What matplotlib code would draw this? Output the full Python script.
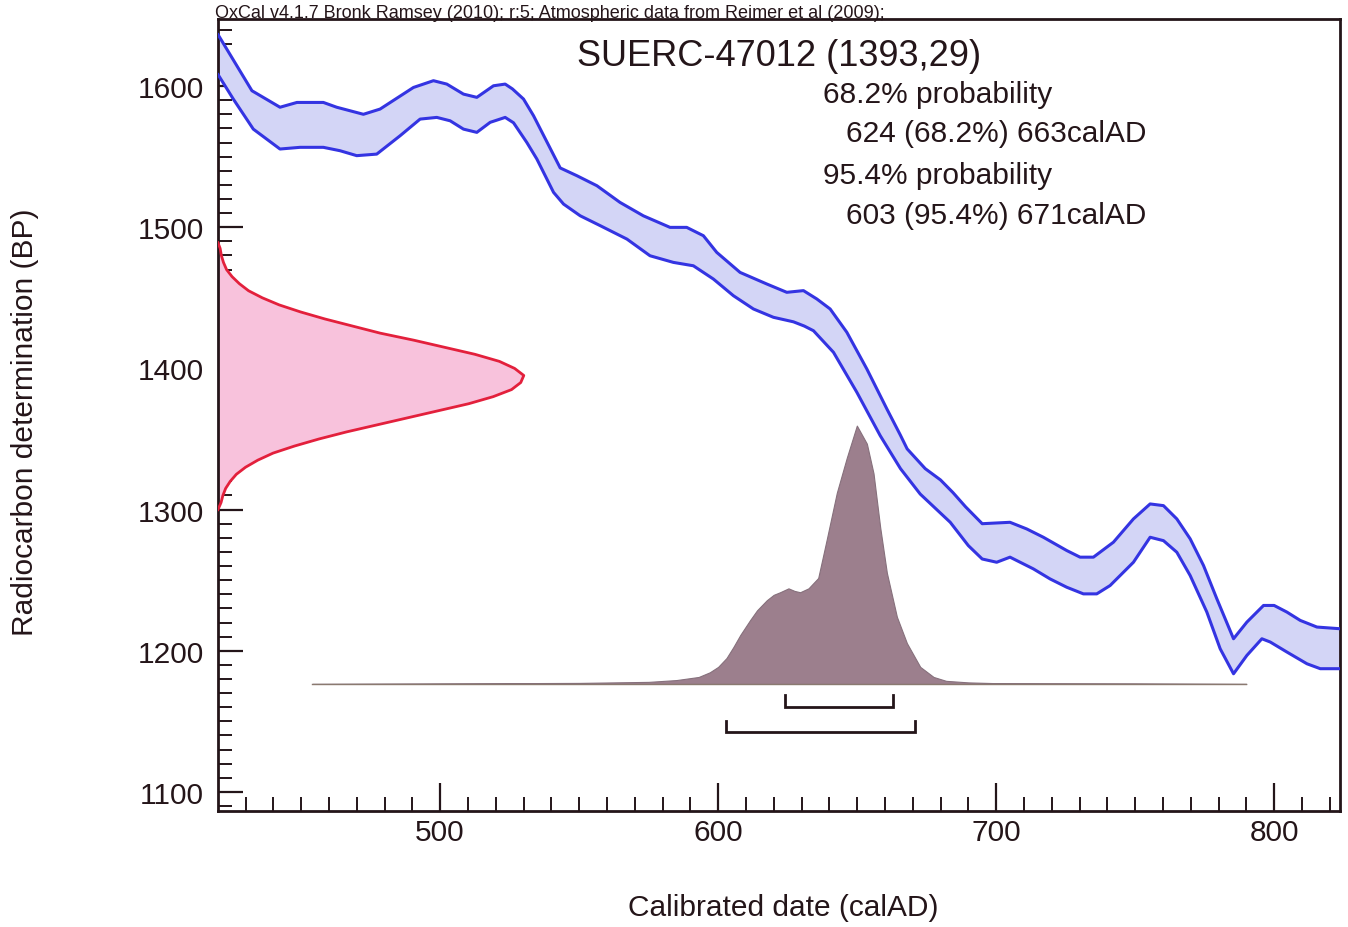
import matplotlib
matplotlib.use('Agg')
import matplotlib.pyplot as plt
from matplotlib.ticker import MultipleLocator, FixedLocator

plt.rcParams['font.family'] = ['Liberation Sans', 'DejaVu Sans']

# ---------------- data ----------------
# calibration curve (upper and lower 1-sigma envelope), calAD vs BP
cal_upper_year = [420, 432.3, 442.4, 448.5, 458, 462.8, 472.4, 478.4, 490.4, 497.6, 502.4, 508.4,
                  513.2, 519.2, 523.4, 526, 530, 533.6, 543.2, 549.2, 556.4, 564.7, 573.1, 582.7,
                  588.7, 594.7, 599.5, 607.9, 617.5, 624.7, 630.7, 635.5, 640.3, 646.3, 653.5,
                  660.7, 665.5, 668, 674.5, 680, 684.5, 689, 695, 705, 711, 717, 725.4, 730.2, 735,
                  742.2, 749.4, 755.4, 760.2, 765, 769.8, 774.6, 779.4, 785.4, 790.2, 796.2, 800,
                  804.6, 809.4, 815.4, 823.7]
cal_upper_bp = [1636.8, 1596.7, 1585, 1588.4, 1588.4, 1585, 1580, 1583.7, 1599, 1603.8, 1601.4, 1594.3,
                1592, 1600.2, 1601.4, 1598, 1590.8, 1579, 1542, 1536.5, 1529.4, 1517.6, 1508.1, 1499.9,
                1499.9, 1494, 1482.2, 1468, 1459.8, 1453.9, 1455.1, 1449.2, 1442.1, 1425.6, 1399.6,
                1371.3, 1353, 1343, 1329, 1321, 1312, 1302, 1290, 1291, 1286.3, 1280.4, 1271, 1266.3, 1266.3,
                1276.9, 1293.4, 1304, 1302.8, 1293.4, 1279.3, 1260.4, 1236.8, 1208.5, 1220.3, 1232.1, 1232.1,
                1227.4, 1221.5, 1216.8, 1215.6]
cal_lower_year = [420, 425.6, 432.8, 442.4, 449.6, 458, 464, 470, 477.2, 485.6, 492.8, 498.8, 503.6,
                  508.4, 513.2, 518, 523.4, 526.4, 531.2, 534.8, 540.8, 544.4, 550.4, 557.6, 567.2,
                  575.5, 583.9, 591.1, 598.3, 605.5, 612.7, 619.9, 627.1, 631, 634.3, 641.5, 649.9,
                  658.3, 665.6, 672.7, 683.5, 690, 695, 700.2, 705, 713.4, 719.4, 725.4, 731.4, 736.2,
                  741, 749.4, 755.4, 760.2, 765, 769.8, 775.8, 780.6, 785.4, 790.2, 795.6, 798.6, 804.6,
                  811.8, 816.6, 823.7]
cal_lower_bp = [1608.5, 1590.8, 1569.5, 1555.4, 1556.6, 1556.6, 1554.2, 1550.7, 1551.8, 1564.8, 1576.6,
                1577.8, 1575.4, 1569.5, 1567.2, 1574.3, 1577.8, 1574, 1560, 1548.3, 1524.7, 1516.4, 1508.1,
                1501.1, 1491.6, 1479.8, 1475.1, 1472.7, 1463.3, 1451.5, 1442.1, 1436.2, 1433, 1430,
                1426.7, 1411.4, 1383.1, 1352.4, 1329, 1311, 1291, 1274.5, 1265, 1262.7, 1266.3, 1258,
                1250.9, 1245, 1240.3, 1240.3, 1246.2, 1262.7, 1280.4, 1278, 1269.8, 1253.3, 1227.4,
                1201.4, 1183.7, 1196.7, 1208.5, 1206.2, 1199.1, 1190.8, 1187.3, 1187.3]

# radiocarbon measurement (relative probability vs BP)
c14_bp = [1489, 1485, 1480, 1475, 1470, 1465, 1460, 1455, 1450, 1445, 1440, 1435, 1430, 1425, 1420,
          1415, 1410, 1405, 1400, 1395, 1390, 1385, 1380, 1375, 1370, 1365, 1360, 1355, 1350, 1345,
          1340, 1335, 1330, 1325, 1320, 1315, 1310, 1305, 1300]
c14_prob = [0.0, 0.007, 0.011, 0.018, 0.028, 0.046, 0.07, 0.10, 0.145, 0.20, 0.27, 0.35, 0.44, 0.53,
            0.64, 0.74, 0.84, 0.92, 0.97, 1.0, 0.99, 0.96, 0.90, 0.82, 0.72, 0.62, 0.52, 0.42, 0.33,
            0.25, 0.18, 0.13, 0.09, 0.06, 0.04, 0.025, 0.016, 0.01, 0.0]

# calibrated date distribution (relative probability vs calAD)
cal_year = [454, 500, 550, 575, 585, 593, 597, 600, 603, 605.5, 608, 611.5, 614, 617.5, 620, 622.3,
            625.3, 627.5, 629.5, 632.5, 636, 639, 642.7, 646.3, 649.9, 653.5, 655.9, 658.3, 660.7,
            664.3, 667.9, 672.7, 677.5, 682, 690, 700, 750, 790]
cal_prob = [0.0, 0.002, 0.004, 0.008, 0.015, 0.027, 0.045, 0.066, 0.10, 0.143, 0.19, 0.247, 0.285,
            0.324, 0.345, 0.355, 0.37, 0.36, 0.355, 0.37, 0.41, 0.556, 0.74, 0.876, 1.0, 0.93, 0.815,
            0.606, 0.43, 0.26, 0.158, 0.066, 0.027, 0.012, 0.006, 0.003, 0.002, 0.0]

# highest probability density ranges
range68 = [(624, 663)]
range95 = [(603, 671)]

header = "OxCal v4.1.7 Bronk Ramsey (2010); r:5; Atmospheric data from Reimer et al (2009);"
sample = "SUERC-47012 (1393,29)"
summary = ["68.2% probability", "624 (68.2%) 663calAD", "95.4% probability", "603 (95.4%) 671calAD"]

# ---------------- figure ----------------
W, H = 1348, 928
fig = plt.figure(figsize=(W / 100, H / 100), dpi=100)
fig.patch.set_facecolor('white')
ax = fig.add_axes([218 / W, 1 - 812 / H, (1340 - 218) / W, (812 - 20) / H])
XMIN, XMAX = 420.1, 823.7
YMIN, YMAX = 1086.5, 1647.5
ax.set_xlim(XMIN, XMAX)
ax.set_ylim(YMIN, YMAX)

dark = '#241519'

# calibration band
poly_x = cal_upper_year + cal_lower_year[::-1]
poly_y = cal_upper_bp + cal_lower_bp[::-1]
ax.fill(poly_x, poly_y, facecolor='#d3d5f6', edgecolor='none', zorder=2)
for xs, ys in ((cal_upper_year, cal_upper_bp), (cal_lower_year, cal_lower_bp)):
    ax.plot(xs, ys, color='#3434e2', lw=2.2, zorder=3, solid_joinstyle='round',
            solid_capstyle='round')

# measurement distribution on y axis
c14_x = [XMIN + p * 110 for p in c14_prob]
ax.fill_betweenx(c14_bp, XMIN, c14_x, facecolor='#f8c2dc', edgecolor='none', zorder=2)
ax.plot(c14_x, c14_bp, color='#e3203c', lw=2, zorder=3, solid_joinstyle='round')

# calibrated distribution
base = 1176.5
cal_top = [base + p * 183 for p in cal_prob]
ax.fill_between(cal_year, base, cal_top, facecolor='#9c7f8d', edgecolor='#86707c', lw=0.8, zorder=2)
ax.plot([cal_year[0], cal_year[-1]], [base, base], color='#8a7a70', lw=1.0, zorder=2)

# range brackets
def bracket(ranges, y):
    for a, b in ranges:
        ax.plot([a, a, b, b], [y + 8, y, y, y + 8], color=dark, lw=2, zorder=4,
                solid_joinstyle='miter')

bracket(range68, 1160.5)
bracket(range95, 1142.5)

# axes styling
for s in ax.spines.values():
    s.set_color(dark)
    s.set_linewidth(2)
ax.xaxis.set_major_locator(FixedLocator([500, 600, 700, 800]))
ax.xaxis.set_minor_locator(MultipleLocator(10))
ax.yaxis.set_major_locator(MultipleLocator(100))
ax.yaxis.set_minor_locator(MultipleLocator(10))
ax.tick_params(axis='x', which='major', direction='in', length=20, width=1.6, color=dark,
               labelsize=21.5, pad=5, labelcolor=dark)
ax.tick_params(axis='x', which='minor', direction='in', length=10, width=1.4, color=dark)
ax.tick_params(axis='y', which='major', direction='in', length=18, width=1.6, color=dark,
               labelsize=21.5, pad=10, labelcolor=dark)
ax.tick_params(axis='y', which='minor', direction='in', length=10, width=1.4, color=dark)
ax.tick_params(top=False, right=False)

fig.text(783 / W, 1 - 908 / H, "Calibrated date (calAD)", fontsize=21.5, color=dark,
         ha='center', va='center')
fig.text(25 / W, 1 - 422 / H, "Radiocarbon determination (BP)", rotation=90, fontsize=21.5,
         color=dark, ha='center', va='center')

# texts
fig.text(215 / W, 1 - 18 / H, header, fontsize=13, color=dark, ha='left', va='baseline')
fig.text(577 / W, 1 - 57 / H, sample, fontsize=26, color=dark, ha='left', va='center')
pos = [(823, 95), (846, 134), (823, 176), (846, 216)]
for (px, py), t in zip(pos, summary):
    fig.text(px / W, 1 - py / H, t, fontsize=21.5, color=dark, ha='left', va='center')

fig.savefig('out.png', dpi=100, facecolor='white')
